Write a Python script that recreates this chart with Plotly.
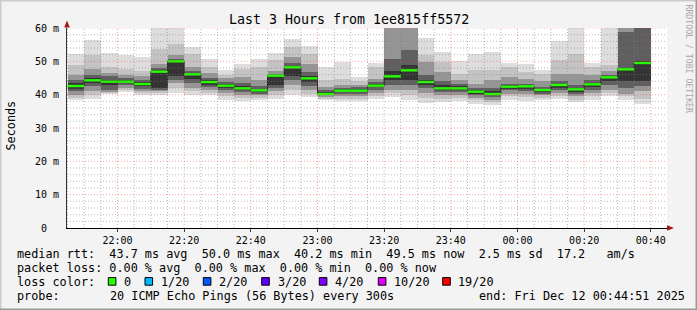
import plotly.graph_objects as go
from datetime import datetime, timedelta

# ---------------- data ----------------
slot_start = ["21:45", "21:50", "21:55", "22:00", "22:05", "22:10", "22:15", "22:20", "22:25",
              "22:30", "22:35", "22:40", "22:45", "22:50", "22:55", "23:00", "23:05", "23:10",
              "23:15", "23:20", "23:25", "23:30", "23:35", "23:40", "23:45", "23:50", "23:55",
              "00:00", "00:05", "00:10", "00:15", "00:20", "00:25", "00:30", "00:35"]

median_ms = [42.6, 44.3, 43.9, 43.9, 43.2, 46.9, 50.0, 46.1, 43.8, 42.7, 41.9, 41.3, 45.7, 48.2,
             44.9, 40.2, 41.2, 41.2, 42.7, 45.5, 47.3, 43.8, 41.9, 41.9, 40.9, 40.2, 42.4, 42.5,
             41.4, 42.9, 41.6, 43.1, 45.2, 47.6, 49.5]

# smoke bands, outer (min/max pings) to inner (around median)
lo1 = [38.3, 38.8, 40.1, 40.8, 39.8, 39.8, 40.6, 39.8, 39.8, 38.5, 38.1, 38.3, 38.8, 39.8, 39.3, 38.3, 38.1, 38.1,
       38.8, 39.3, 38.3, 37.5, 37.8, 38.1, 37.3, 37.0, 38.5, 38.1, 38.3, 38.8, 37.8, 38.5, 39.5, 38.5, 37.3]
lo2 = [39.0, 39.8, 40.4, 41.5, 40.5, 40.5, 42.0, 41.0, 40.5, 39.5, 39.0, 39.0, 40.0, 41.5, 40.3, 38.8, 38.8, 38.8,
       39.5, 40.5, 40.0, 39.0, 38.8, 39.0, 38.3, 37.8, 39.5, 39.3, 39.0, 39.5, 38.5, 39.5, 40.5, 39.5, 38.8]
lo3 = [40.0, 41.0, 40.7, 42.0, 41.0, 41.0, 43.5, 42.0, 41.3, 40.5, 40.0, 39.8, 41.0, 43.0, 41.3, 39.3, 39.5, 39.5,
       40.5, 41.5, 41.5, 40.5, 39.8, 39.8, 39.0, 38.5, 40.3, 40.3, 39.8, 40.5, 39.5, 40.5, 41.5, 40.3, 41.0]
lo4 = [41.0, 42.5, 41.5, 42.8, 41.8, 41.5, 44.5, 43.5, 42.3, 41.3, 40.8, 40.3, 42.0, 44.5, 42.5, 39.8, 40.3, 40.3,
       41.5, 43.0, 43.0, 42.0, 40.8, 40.8, 39.8, 39.3, 41.3, 41.0, 40.3, 41.3, 40.3, 41.5, 42.8, 42.0, 42.5]
lo5 = [41.8, 43.5, 43.0, 43.4, 42.6, 42.0, 45.5, 44.8, 43.0, 42.0, 41.4, 40.8, 43.0, 45.5, 43.8, 40.0, 40.8, 40.8,
       42.2, 44.5, 44.5, 43.0, 41.3, 41.3, 40.3, 39.8, 41.8, 41.8, 40.8, 42.0, 40.8, 42.3, 44.0, 44.0, 44.0]
hi1 = [52.3, 56.3, 52.6, 52.0, 51.2, 62.0, 62.0, 54.3, 50.8, 47.3, 49.3, 50.8, 52.6, 56.6, 54.7, 48.2, 49.9, 45.3,
       49.5, 70.0, 70.0, 57.1, 52.8, 50.0, 52.3, 52.8, 49.5, 49.3, 47.3, 56.1, 65.0, 49.5, 65.0, 70.0, 70.0]
hi2 = [48.8, 51.8, 48.3, 47.8, 47.0, 53.8, 55.3, 52.3, 48.3, 46.0, 47.8, 48.3, 50.3, 54.3, 52.3, 44.3, 44.8, 44.0,
       48.3, 70.0, 70.0, 51.8, 49.8, 46.3, 47.3, 47.3, 48.3, 46.8, 46.3, 50.3, 52.3, 48.3, 48.8, 70.0, 70.0]
hi3 = [46.0, 47.8, 46.5, 46.0, 45.5, 49.3, 51.8, 48.3, 46.5, 45.0, 45.3, 44.3, 47.0, 51.3, 49.3, 42.3, 43.0, 43.0,
       44.8, 70.0, 70.0, 49.8, 46.8, 44.5, 43.3, 44.3, 45.3, 44.8, 44.0, 46.3, 46.3, 45.8, 47.0, 70.0, 70.0]
hi4 = [44.5, 45.8, 45.5, 45.0, 44.5, 48.0, 50.8, 47.0, 45.0, 43.8, 43.5, 42.5, 46.3, 49.5, 46.8, 41.5, 42.0, 42.3,
       43.8, 50.8, 53.3, 46.0, 44.0, 43.3, 42.0, 42.0, 43.3, 43.3, 42.3, 44.0, 43.0, 44.3, 46.0, 58.8, 70.0]
hi5 = [43.5, 45.0, 44.5, 44.5, 43.8, 47.3, 50.3, 46.5, 44.3, 43.2, 42.5, 41.8, 46.0, 48.7, 45.7, 40.8, 41.6, 41.7,
       43.2, 47.0, 49.0, 44.5, 42.8, 42.5, 41.5, 41.0, 42.8, 42.8, 41.8, 43.3, 42.0, 43.6, 45.6, 48.0, 50.0]

y_tick_vals = [0, 10, 20, 30, 40, 50, 60]
y_tick_text = ["0\u00a0\u00a0", "10 m", "20 m", "30 m", "40 m", "50 m", "60 m"]

loss_labels = ["0", "1/20", "2/20", "3/20", "4/20", "10/20", "19/20"]
loss_colors = ["#26ff00", "#00b8ff", "#0059ff", "#5e00ff", "#7e00ff", "#dd00ff", "#ff0000"]

rtt_avg, rtt_max, rtt_min, rtt_now, rtt_sd, am_s = 43.7, 50.0, 40.2, 49.5, 2.5, 17.2
loss_avg, loss_max, loss_min, loss_now = 0.0, 0.0, 0.0, 0.0
title_text = "Last 3 Hours from 1ee815ff5572"
probe_text = "20 ICMP Echo Pings (56 Bytes) every 300s"
end_text = "end: Fri Dec 12 00:44:51 2025"

# ---------------- helpers ----------------
STEP = timedelta(minutes=5)
def to_dt(hm):
    h, m = map(int, hm.split(":"))
    day = 11 if h >= 12 else 12
    return datetime(2025, 12, day, h, m)

starts = [to_dt(s) for s in slot_start]
centers = [s + STEP / 2 for s in starts]
x_start = datetime(2025, 12, 11, 21, 44, 51)
x_end = datetime(2025, 12, 12, 0, 44, 51)

L, T, W, H = 67, 28, 600, 200
def px(x):
    return (x - L) / W
def py(y):
    return (T + H - y) / H

MONO = "DejaVu Sans Mono"
NB = "\u00a0"

fig = go.Figure()

layer_colors = ["#dddddd", "#c3c3c3", "#959595", "#5f5f5f", "#343434"]
for lo, hi, col in zip([lo1, lo2, lo3, lo4, lo5], [hi1, hi2, hi3, hi4, hi5], layer_colors):
    fig.add_trace(go.Bar(
        x=centers, base=lo, y=[h - l for h, l in zip(hi, lo)],
        width=[STEP.total_seconds() * 1000] * len(centers),
        marker=dict(color=col, line=dict(width=0)), hoverinfo="skip"))

# dark median step line
fig.add_trace(go.Scatter(
    x=starts + [starts[-1] + STEP], y=median_ms + [median_ms[-1]],
    mode="lines", line=dict(color="#202020", width=1, shape="hv"), hoverinfo="skip"))

# green median segments (0 loss)
gx, gy = [], []
for s, m in zip(starts, median_ms):
    gx += [s, s + STEP, None]
    gy += [m, m, None]
fig.add_trace(go.Scatter(x=gx, y=gy, mode="lines",
                         line=dict(color=loss_colors[0], width=2.4), hoverinfo="skip"))

shapes = []
DOT = "1px,2px"
minor_col = "rgba(130,130,130,0.55)"
major_col = "rgba(235,50,50,0.45)"
# vertical grid
t = datetime(2025, 12, 11, 21, 45)
while t < x_end:
    major = (t.minute % 20 == 0)
    shapes.append(dict(type="line", xref="x", yref="paper", x0=t, x1=t, y0=0, y1=1, layer="above",
                       line=dict(color=major_col if major else minor_col, width=1, dash=DOT)))
    t += STEP
# horizontal grid
for v in range(2, 61, 2):
    major = (v % 10 == 0)
    shapes.append(dict(type="line", xref="paper", yref="y", x0=0, x1=1, y0=v, y1=v, layer="above",
                       line=dict(color=major_col if major else minor_col, width=1, dash=DOT)))

# arrows
def ppath(pts):
    return "M " + " L ".join(f"{px(a):.5f},{py(b):.5f}" for a, b in pts) + " Z"
shapes.append(dict(type="path", xref="paper", yref="paper", layer="above",
                   path=ppath([(64.2, 27.5), (67, 20.5), (69.8, 27.5)]),
                   fillcolor="#a01818", line=dict(width=0)))
shapes.append(dict(type="path", xref="paper", yref="paper", layer="above",
                   path=ppath([(667, 225.2), (674, 228), (667, 230.8)]),
                   fillcolor="#a01818", line=dict(width=0)))

# 3D frame
shapes.append(dict(type="line", xref="paper", yref="paper", x0=px(0), x1=px(697), y0=py(0.5), y1=py(0.5),
                   line=dict(color="#cbcbcb", width=2)))
shapes.append(dict(type="line", xref="paper", yref="paper", x0=px(0.5), x1=px(0.5), y0=py(0), y1=py(310),
                   line=dict(color="#cbcbcb", width=2)))
shapes.append(dict(type="line", xref="paper", yref="paper", x0=px(0), x1=px(697), y0=py(309.5), y1=py(309.5),
                   line=dict(color="#999999", width=2)))
shapes.append(dict(type="line", xref="paper", yref="paper", x0=px(696.5), x1=px(696.5), y0=py(0), y1=py(310),
                   line=dict(color="#999999", width=2)))

# loss colour boxes
box_x = [108.3, 145.0, 203.3, 261.7, 319.3, 378.3, 442.7]
text_x = [123.3, 160.0, 218.3, 276.7, 334.0, 392.7, 456.7]
for bx, col in zip(box_x, loss_colors):
    shapes.append(dict(type="rect", xref="paper", yref="paper",
                       x0=px(bx), x1=px(bx + 7.6), y0=py(277.6), y1=py(285.2),
                       fillcolor=col, line=dict(color="#000000", width=1)))

ann = []
def txt(x, y, s, size=11.8, anchor="left", angle=0, color="#000000"):
    ann.append(dict(xref="paper", yref="paper", x=px(x), y=py(y), text=s.replace(" ", NB),
                    showarrow=False, xanchor=anchor, yanchor="middle", textangle=angle,
                    borderpad=0, font=dict(family=MONO, size=size, color=color)))

txt(348.5, 19, title_text, size=13.3, anchor="center")
txt(10, 125.5, "Seconds", anchor="center", angle=-90)
txt(688.5, 59, "RRDTOOL / TOBI OETIKER", size=8.2, anchor="center", angle=90, color="#a8a8a8")

row1 = (f"median rtt:  {rtt_avg:.1f} ms avg  {rtt_max:.1f} ms max  {rtt_min:.1f} ms min  "
        f"{rtt_now:.1f} ms now  {rtt_sd:.1f} ms sd  {am_s:.1f}   am/s")
row2 = (f"packet loss: {loss_avg:.2f} % avg  {loss_max:.2f} % max  {loss_min:.2f} % min  "
        f"{loss_now:.2f} % now")
txt(16.4, 253.5, row1)
txt(16.4, 267.5, row2)
txt(16.4, 281.5, "loss color:")
for tx, lab in zip(text_x, loss_labels):
    txt(tx, 281.5, lab)
txt(16.4, 295.5, "probe:")
txt(16.4 + 13 * 7.1, 295.5, probe_text)
txt(16.4 + 65 * 7.1, 295.5, end_text)

fig.update_layout(
    width=697, height=310,
    margin=dict(l=L, r=697 - L - W, t=T, b=310 - T - H, pad=0),
    paper_bgcolor="#f3f3f3", plot_bgcolor="#ffffff",
    barmode="overlay", bargap=0, showlegend=False, hovermode=False,
    shapes=shapes, annotations=ann,
    xaxis=dict(type="date", range=[x_start, x_end], tickformat="%H:%M",
               dtick=20 * 60 * 1000, tick0="2025-12-11 22:00:00",
               ticks="outside", ticklen=3, tickcolor="#444444",
               showgrid=False, zeroline=False, showline=True, linecolor="#000000", linewidth=1,
               tickfont=dict(family=MONO, size=10, color="#000000"), automargin=False, fixedrange=True),
    yaxis=dict(range=[0, 60], tickvals=y_tick_vals, ticktext=y_tick_text, ticks="",
               ticklabelstandoff=5,
               showgrid=False, zeroline=False, showline=True, linecolor="#333333", linewidth=1,
               tickfont=dict(family=MONO, size=10, color="#000000"), automargin=False, fixedrange=True),
)

fig.write_html("out.html", include_plotlyjs=True, config={"displayModeBar": False, "staticPlot": True})
